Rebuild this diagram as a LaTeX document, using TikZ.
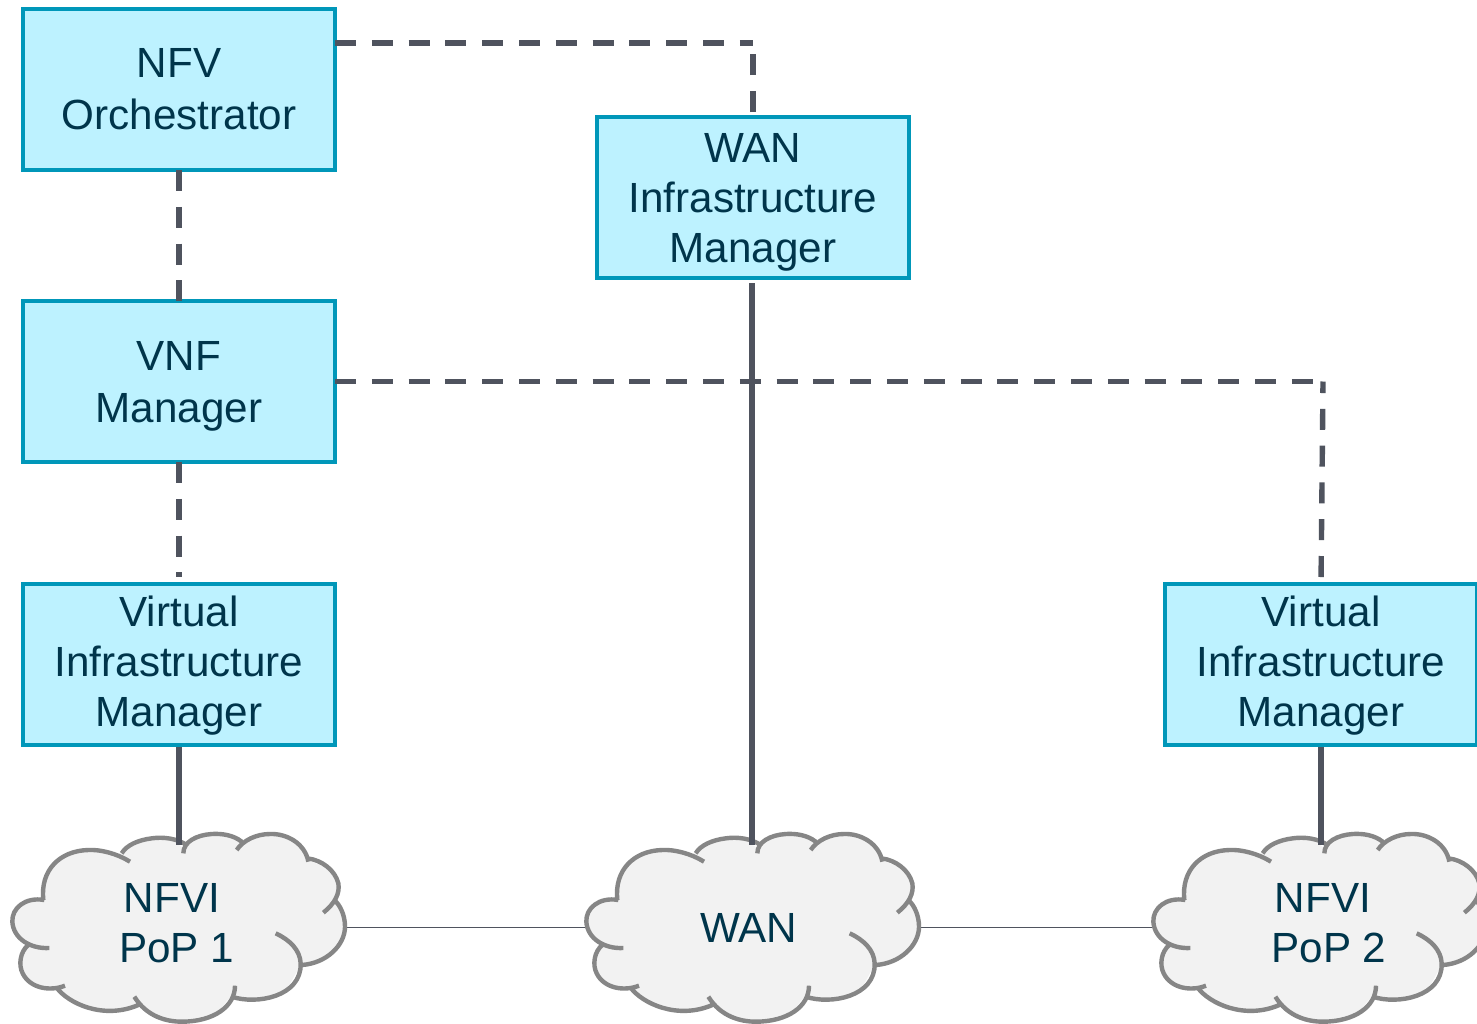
\documentclass[tikz,border=0pt]{standalone}
\usepackage{fontspec}
\setmainfont{Liberation Sans}
\pgfdeclarelayer{lineslayer}
\pgfdeclarelayer{cloudlayer}
\pgfsetlayers{lineslayer,cloudlayer,main}
\definecolor{boxfill}{HTML}{BDF2FF}
\definecolor{boxline}{HTML}{0097B9}
\definecolor{inktext}{HTML}{00354B}
\definecolor{conn}{HTML}{4F535E}
\definecolor{cloudfill}{HTML}{F2F2F2}
\definecolor{cloudline}{HTML}{868686}
\tikzset{
  txt/.style={font=\fontsize{21.1}{25}\selectfont,text=inktext,align=center},
  mgr/.style={txt,draw=boxline,fill=boxfill,line width=2pt,minimum width=156pt,minimum height=80.5pt,inner sep=0pt,outer sep=0pt,rectangle},
  cloudlabel/.style={txt,rectangle,inner sep=0pt,outer sep=0pt},
  thick conn/.style={draw=conn,line width=2.7pt},
  dash conn/.style={draw=conn,line width=2.7pt,dash pattern=on 10.5pt off 7.9pt},
  thin conn/.style={draw=conn,line width=0.8pt},
  cloudstroke/.style={draw=cloudline,line width=2.2pt,line cap=butt},
}
\newcommand{\cloudshape}[1]{%
\begin{scope}[shift={(#1,820)},x=0.16667pt,y=-0.16667pt]
\fill[cloudfill] plot[smooth cycle,tension=0.45] coordinates {(130,240)(85,240)(45,275)(38,310)(60,355)(85,375)(62,410)(62,445)(90,490)(140,508)(170,503)(220,550)(320,577)(415,555)(450,585)(540,605)(640,590)(695,530)(770,542)(850,520)(905,435)(975,415)(1030,350)(1030,285)(1005,240)(1015,195)(985,145)(925,120)(900,75)(850,45)(790,42)(725,65)(690,45)(640,42)(590,55)(555,85)(510,57)(450,55)(395,75)(365,100)(270,90)(190,105)(135,165)(130,190)};
\draw[cloudstroke]
 (133,240) .. controls (75,230) and (35,265) .. (37,305) .. controls (40,355) and (90,387) .. (148,384)
 (85,375) .. controls (60,395) and (55,435) .. (68,460) .. controls (90,505) and (150,515) .. (195,497)
 (170,503) .. controls (205,550) and (310,600) .. (415,555)
 (403,530) .. controls (440,590) and (500,605) .. (545,605) .. controls (640,605) and (705,560) .. (705,497)
 (695,530) .. controls (770,555) and (905,530) .. (902,430) .. controls (900,390) and (870,360) .. (827,340)
 (905,435) .. controls (980,430) and (1035,375) .. (1035,320) .. controls (1035,285) and (1020,255) .. (1003,240)
 (970,278) .. controls (1005,250) and (1020,220) .. (1015,190) .. controls (1005,150) and (965,120) .. (922,115)
 (925,125) .. controls (915,70) and (860,40) .. (810,42) .. controls (770,42) and (730,60) .. (710,90)
 (725,65) .. controls (700,45) and (665,40) .. (635,42) .. controls (590,45) and (550,65) .. (550,100)
 (560,75) .. controls (530,55) and (490,50) .. (455,55) .. controls (415,60) and (380,75) .. (365,100)
 (390,125) .. controls (350,100) and (300,88) .. (265,90) .. controls (180,92) and (120,150) .. (130,240);
\end{scope}}
\begin{document}
\begin{tikzpicture}[x=0.5pt,y=-0.5pt]
\useasboundingbox (0,0) rectangle (1477,1023);
\begin{pgfonlayer}{lineslayer}
\fill[white] (0,0) rectangle (1477,1023);
\end{pgfonlayer}
\node[mgr] (orch) at (179,89.5) {NFV\\[1pt]Orchestrator};
\node[mgr] (vnf) at (179,381.5) {\rule{0pt}{19.2pt}VNF\\[1pt]Manager};
\node[mgr] (vim) at (179,664.5) {\rule{0pt}{16.2pt}Virtual\\Infrastructure\\Manager};
\node[mgr] (wim) at (753,197.5) {\rule{0pt}{19.7pt}WAN\\Infrastructure\\Manager};
\node[mgr] (vimb) at (1321,664.5) {\rule{0pt}{16.2pt}Virtual\\Infrastructure\\Manager};
\node[cloudlabel,minimum width=172pt,minimum height=78pt] (popa) at (172,923) {NFVI\\\hspace*{4.5pt}PoP 1};
\node[cloudlabel,minimum width=164pt,minimum height=82.5pt] (wan) at (749,927.5) {WAN};
\node[cloudlabel,minimum width=170pt,minimum height=78pt] (popb) at (1329,923) {NFVI\hspace*{6pt}\\PoP 2};
\coordinate (orchport) at ([yshift=23.25pt]orch.east);
\coordinate (cornera) at (wim.north |- orchport);
\coordinate (cornerb) at (1323,381.5);
\begin{pgfonlayer}{cloudlayer}
\cloudshape{0}
\cloudshape{574}
\cloudshape{1141}
\end{pgfonlayer}
\begin{pgfonlayer}{lineslayer}
\draw[thin conn] (popa.east |- wan.west) -- (wan.west);
\draw[thin conn] (wan.east) -- (wan.east -| popb.west);
\end{pgfonlayer}
\draw[dash conn] (orchport) -- (cornera);
\draw[dash conn,shorten <=2.5pt] (wim.north) -- (cornera);
\draw[dash conn] (orch.south) -- (vnf.north);
\draw[dash conn,shorten >=3.5pt] (vnf.south) -- (vim.north);
\draw[dash conn] (vnf.east) -- (cornerb);
\draw[dash conn,shorten <=3.5pt] (vimb.north) -- (cornerb);
\draw[thick conn,shorten <=1pt] (vim.south) -- (vim.south |- popa.north);
\draw[thick conn,shorten <=2.5pt] ([xshift=-0.5pt]wim.south) -- ([xshift=-0.5pt]wim.south |- wan.north);
\draw[thick conn,shorten <=1pt] (vimb.south) -- (vimb.south |- popb.north);
\end{tikzpicture}
\end{document}
